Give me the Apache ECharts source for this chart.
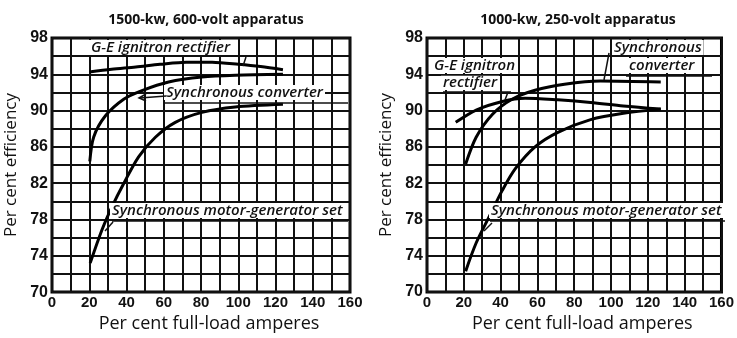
<!DOCTYPE html>
<html>
<head>
<meta charset="utf-8">
<script src="https://cdn.jsdelivr.net/npm/echarts@6/dist/echarts.min.js"></script>
<style>
  html, body { margin: 0; padding: 0; background: #fff; }
  #chart { width: 737px; height: 338px; }
</style>
</head>
<body>
<div id="chart"></div>
<script>
// 1500-kw, 600-volt apparatus  [per cent full-load amperes, per cent efficiency]
var leftRectifier = [[20, 94.25], [32, 94.55], [45, 94.8], [58, 95.1], [72, 95.34], [86, 95.32], [100, 95.1], [112, 94.85], [124, 94.5]]
var leftConverter = [[20.3, 84.4], [22.4, 87.1], [28.6, 89.4], [38.5, 91.25], [48.3, 92.2], [62.6, 93.15], [80.5, 93.7], [98.4, 93.9], [124, 94.0]]
var leftMotorGen = [[20.5, 73.2], [26.8, 76.85], [32.2, 79.4], [38.5, 81.96], [46.5, 84.9], [55.5, 87.06], [66.2, 88.7], [80.5, 89.8], [98.4, 90.4], [124, 90.7]]

// 1000-kw, 250-volt apparatus
var rightRectifier = [[15.6, 88.7], [26.7, 90.05], [40.9, 91.0], [53.3, 91.36], [71.1, 91.18], [88.9, 90.9], [106.7, 90.5], [127, 90.16]]
var rightConverter = [[21, 84.1], [26.7, 87.06], [35.6, 89.6], [46.2, 91.25], [58.7, 92.24], [74.7, 92.9], [94.2, 93.26], [127, 93.15]]
var rightMotorGen = [[21, 72.3], [26.7, 75.4], [33.8, 78.3], [40.9, 81.2], [48, 83.6], [58.7, 86.0], [71.1, 87.6], [88.9, 89.0], [106.7, 89.7], [127, 90.16]]

var titles = ['1500-kw, 600-volt apparatus', '1000-kw, 250-volt apparatus']
var xName = 'Per cent full-load amperes'
var yName = 'Per cent efficiency'

var chart = echarts.init(document.getElementById('chart'), null, { renderer: 'canvas' })

var fontFam = 'Liberation Sans'
var nameFam = 'Open Sans'
var noteFont = 'italic 600 15px "Open Sans"'

function xAxisFor(idx) {
    return {
        gridIndex: idx,
        type: 'value',
        min: 0,
        max: 160,
        interval: 10,
        name: xName,
        nameLocation: 'middle',
        nameGap: 15,
        nameTextStyle: { color: '#111', fontSize: 18, fontFamily: nameFam, verticalAlign: 'top', padding: [0, 0, 0, 16] },
        axisLine: { show: false },
        axisTick: { show: false },
        axisLabel: {
            color: '#111',
            fontSize: 15,
            fontWeight: 'bold',
            fontFamily: fontFam,
            margin: 3,
            formatter: function (v) { return v % 20 === 0 ? String(v) : '' }
        },
        splitLine: { show: true, lineStyle: { color: '#111', width: 2 } }
    }
}

function yAxisFor(idx) {
    return {
        gridIndex: idx,
        type: 'value',
        min: 70,
        max: 98,
        interval: 2,
        name: yName,
        nameLocation: 'middle',
        nameGap: 32,
        nameTextStyle: { color: '#111', fontSize: 17, fontFamily: nameFam },
        axisLine: { show: false },
        axisTick: { show: false },
        axisLabel: {
            color: '#111',
            fontSize: 16,
            fontWeight: 'bold',
            fontFamily: fontFam,
            margin: 4,
            formatter: function (v) { return (v - 70) % 4 === 0 ? String(v) : '' }
        },
        splitLine: { show: true, lineStyle: { color: '#111', width: 2 } }
    }
}

function curve(name, data, idx) {
    return {
        name: name,
        type: 'line',
        xAxisIndex: idx,
        yAxisIndex: idx,
        data: data,
        smooth: 0.3,
        showSymbol: false,
        silent: true,
        z: 3,
        lineStyle: { color: '#000', width: 3 }
    }
}

// annotation helpers
function note(text, x, y) {
    return {
        type: 'text',
        z: 100,
        style: {
            text: text, x: x, y: y,
            font: noteFont,
            fill: '#111',
            backgroundColor: '#fff',
            padding: [0, 2, 0, 2],
            verticalAlign: 'top'
        }
    }
}
function stroke(points, w) {
    return {
        type: 'polyline',
        z: 101,
        shape: { points: points },
        style: { stroke: '#111', lineWidth: w || 1.5, fill: null }
    }
}

var option = {
    backgroundColor: '#fff',
    animation: false,
    title: [
        { text: titles[0], left: 201, top: 8, textAlign: 'center',
          textStyle: { fontSize: 14, fontWeight: 'bold', color: '#111', fontFamily: nameFam } },
        { text: titles[1], left: 573, top: 8, textAlign: 'center',
          textStyle: { fontSize: 14, fontWeight: 'bold', color: '#111', fontFamily: nameFam } }
    ],
    grid: [
        { left: 52, top: 38, width: 298, height: 256, show: true, borderColor: '#000', borderWidth: 3, backgroundColor: 'transparent' },
        { left: 427, top: 38, width: 300, height: 254, show: true, borderColor: '#000', borderWidth: 3, backgroundColor: 'transparent' }
    ],
    xAxis: [xAxisFor(0), xAxisFor(1)],
    yAxis: [yAxisFor(0), yAxisFor(1)],
    series: [
        curve('G-E ignitron rectifier', leftRectifier, 0),
        curve('Synchronous converter', leftConverter, 0),
        curve('Synchronous motor-generator set', leftMotorGen, 0),
        curve('G-E ignitron rectifier', rightRectifier, 1),
        curve('Synchronous converter', rightConverter, 1),
        curve('Synchronous motor-generator set', rightMotorGen, 1)
    ],
    graphic: [
        // left panel
        note('G-E ignitron rectifier', 89, 40),
        stroke([[90, 56], [250, 56]]),
        stroke([[246, 57], [243, 66]]),
        note('Synchronous converter', 164, 85),
        stroke([[165, 103], [348, 103]]),
        stroke([[166, 96], [140, 98]]),
        stroke([[146, 94], [139, 98], [146, 101]]),
        note('Synchronous motor-generator set', 110, 203),
        stroke([[112, 221], [348, 221]]),
        stroke([[113, 222], [105, 231]]),
        // right panel
        note('G-E ignitron', 432, 58),
        stroke([[430, 75], [534, 75]]),
        note('rectifier', 441, 75),
        stroke([[443, 92], [511, 92]]),
        stroke([[508, 92], [505, 100]]),
        note('Synchronous', 612, 40),
        note('converter', 627, 58),
        stroke([[626, 76], [712, 76]]),
        stroke([[609, 53], [604, 80]]),
        note('Synchronous motor-generator set', 489, 203),
        stroke([[490, 221], [725, 221]]),
        stroke([[492, 223], [484, 231]])
    ]
}

chart.setOption(option)
</script>
</body>
</html>
